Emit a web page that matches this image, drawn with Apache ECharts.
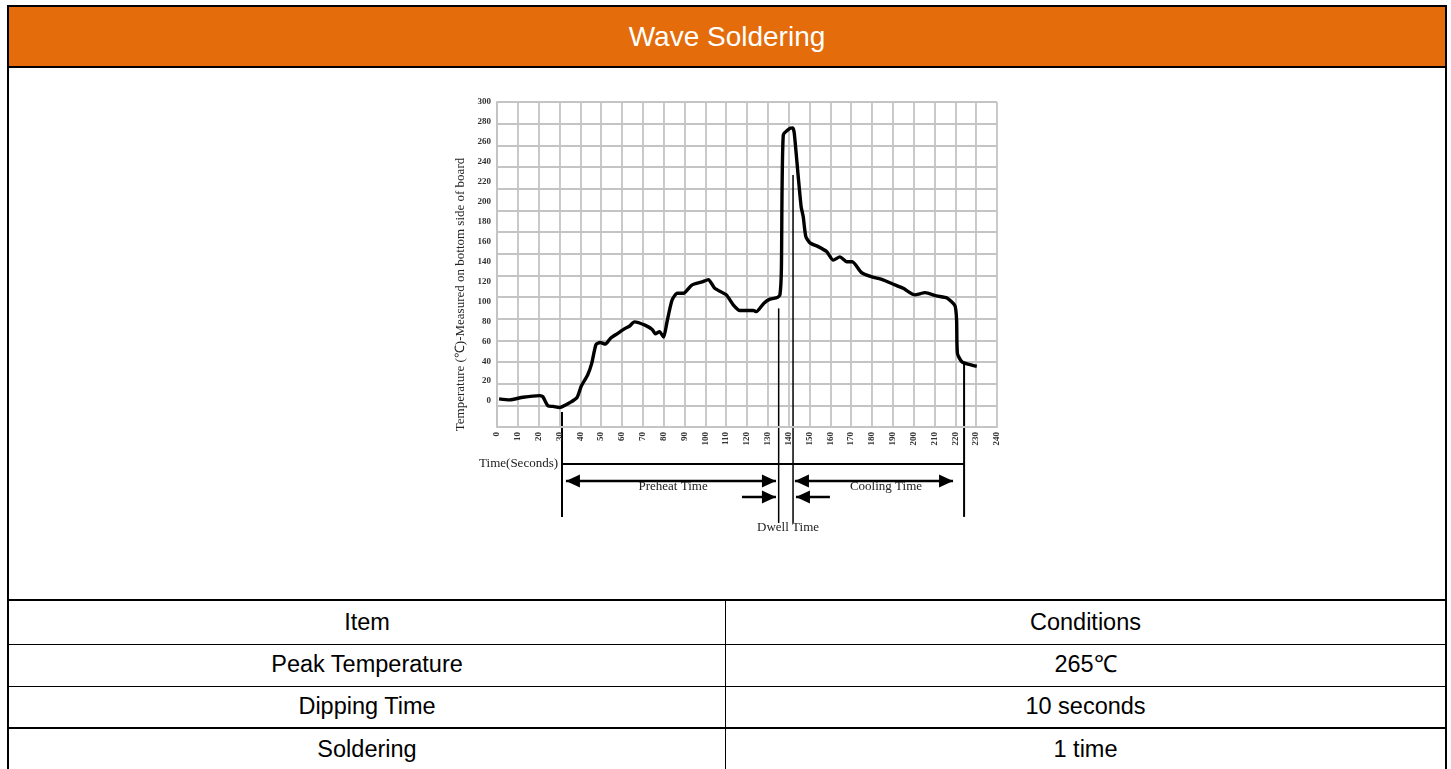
<!DOCTYPE html>
<html>
<head>
<meta charset="utf-8">
<script src="https://cdn.jsdelivr.net/npm/echarts@6/dist/echarts.min.js"></script>
<style>
  html, body { margin: 0; padding: 0; background: #fff; width: 1451px; height: 769px; overflow: hidden; }
  #chart { position: absolute; left: 0; top: 0; width: 1451px; height: 769px; }
  #header { position: absolute; left: 7px; top: 5px; width: 1436px; height: 59px; background: #E46C0A;
            border: 2px solid #000; color: #fff; font-family: "Liberation Sans", Arial, sans-serif;
            font-size: 28px; line-height: 59px; text-align: center; z-index: 2; }
  #frame { position: absolute; left: 7px; top: 66px; width: 1436px; height: 534px;
           border-left: 2px solid #000; border-right: 2px solid #000; pointer-events: none; z-index: 2; }
  #tbl { position: absolute; left: 7px; top: 599px; width: 1440px; border-collapse: collapse; z-index: 2;
         font-family: "Liberation Sans", Arial, sans-serif; font-size: 23.5px; color: #000; background: #fff; }
  #tbl td { border: 1px solid #000; text-align: center; padding: 0; line-height: 1; }
  #tbl tr.thick td { border-top: 2px solid #000; }
  #tbl td.l { border-left: 2px solid #000; width: 716px; }
  #tbl td.r { border-right: 2px solid #000; }
</style>
</head>
<body>
<div id="chart"></div>
<div id="header">Wave Soldering</div>
<div id="frame"></div>
<table id="tbl"></table>
<script>
// ---- Data ----
const timeS = [1, 6, 12.5, 20.5, 22, 24.5, 27, 30, 35, 38.5, 40.5, 43.5, 45.5, 47.5, 49.5, 52, 54.5, 58, 61.5, 63.5,
  66, 71, 74.5, 76, 78, 80, 81.5, 84, 86.5, 89.5, 93.5, 98.5, 101.5, 104.5, 110, 113.5, 116.5, 123, 124.5, 128,
  131, 134.5, 135.8, 136.5, 137.4, 140.6, 142, 142.7, 144.6, 146, 147, 148.2, 150.2, 154.2, 158.2, 161.4, 164.6,
  167.9, 170.5, 175, 180, 184.7, 190, 195, 200.5, 205.5, 211, 216, 219.8, 220.6, 221, 223, 226, 230.3];
const tempC = [26, 25, 27.5, 29, 28, 19.5, 19, 18, 22.5, 27.5, 38, 48, 59, 76, 78, 76.5, 82, 86.5, 91, 93,
  97, 94, 90, 86, 88, 83, 96, 117, 123.5, 123.5, 131, 134, 136, 128, 122, 112.5, 107.5, 107.5, 106.5, 114,
  118, 119.5, 122, 145, 269.5, 275.7, 276, 271, 231, 203, 194, 176, 170, 166.5, 162, 154, 157,
  152.5, 152.5, 142.5, 138.5, 136.3, 132, 128, 122, 124, 121, 119, 112, 99, 68, 60.5, 58, 56];

// y tick labels of the reference are drawn on their own (slightly compressed) scale
const yTickLabels = [0, 20, 40, 60, 80, 100, 120, 140, 160, 180, 200, 220, 240, 260, 280, 300];
const yLabelOffset = 26;   // label "0" sits this many grid units above the grid's bottom line

// annotation positions, in data units (seconds, grid degrees)
const markerTimes   = [31.2, 135.2, 142.1, 224.2];
const markerTops    = [13.8, 109.5, 232.6, 58.8];
const markerBottoms = [-83, -88.6, -88.6, -83];
const timeLineSpan  = [31.2, 224.2];
const timeLineLevel = -34.2;
const preheatSpan   = [33.1, 133.9];
const coolingSpan   = [143.0, 218.9];
const spanLevel     = -49.8;
const dwellRightArrow = [117.6, 133.9];
const dwellLeftArrow  = [159.8, 143.5];
const dwellLevel    = -64.6;
const annoTexts = ['Time(Seconds)', 'Preheat Time', 'Cooling Time', 'Dwell Time'];
const annoTimes = [29.3, 84.5, 186.7, 139.7];
const annoTemps = [-34.2, -55.4, -55.4, -93];

const tableItems = ['Item', 'Peak Temperature', 'Dipping Time', 'Soldering'];
const tableConds = ['Conditions', '265℃', '10 seconds', '1 time'];

// ---- Table ----
const rowHeights = [44, 42, 42, 42];
const tbl = document.getElementById('tbl');
tableItems.forEach((it, i) => {
  const tr = document.createElement('tr');
  if (i === 0 || i === 3) tr.className = 'thick';
  tr.style.height = rowHeights[i] + 'px';
  const a = document.createElement('td'); a.className = 'l'; a.textContent = it;
  const b = document.createElement('td'); b.className = 'r'; b.textContent = tableConds[i];
  tr.appendChild(a); tr.appendChild(b); tbl.appendChild(tr);
});

// ---- Chart ----
const chart = echarts.init(document.getElementById('chart'), null, { renderer: 'canvas' });
const gridColor = '#c4c4c4';
const serif = '"Liberation Serif", "Times New Roman", serif';
const curve = timeS.map((t, i) => [t, tempC[i]]);
const labelMax = Math.round(300 + yLabelOffset);

chart.setOption({
  animation: false,
  backgroundColor: 'transparent',
  grid: { left: 497, right: 454, top: 102, bottom: 342, containLabel: false },
  xAxis: {
    type: 'value', min: 0, max: 240, interval: 10,
    axisLine: { show: true, onZero: false, lineStyle: { color: gridColor, width: 1.8 } },
    axisTick: { show: false },
    splitLine: { show: true, lineStyle: { color: gridColor, width: 1.8 } },
    axisLabel: { rotate: 90, margin: 5, fontFamily: serif, fontSize: 9, fontWeight: 'bold', color: '#333' }
  },
  yAxis: [
    {
      type: 'value', min: 0, max: 300, interval: 20,
      axisLine: { show: true, lineStyle: { color: gridColor, width: 1.8 } },
      axisTick: { show: false },
      splitLine: { show: true, lineStyle: { color: gridColor, width: 1.8 } },
      axisLabel: { show: false },
      name: 'Temperature (℃)-Measured on bottom side of board',
      nameLocation: 'middle', nameGap: 30,
      nameTextStyle: { fontFamily: serif, fontSize: 13, color: '#222', padding: [0, 60, 0, 0] }
    },
    {
      type: 'value', min: 0, max: labelMax, interval: 2, position: 'left',
      axisLine: { show: false }, axisTick: { show: false }, splitLine: { show: false },
      axisLabel: {
        margin: 6, fontFamily: serif, fontSize: 9, fontWeight: 'bold', color: '#333',
        formatter: function (v) {
          const lab = Math.round(v - yLabelOffset);
          return yTickLabels.indexOf(lab) >= 0 ? String(lab) : '';
        }
      }
    }
  ],
  series: [{
    type: 'line', data: curve, yAxisIndex: 0, xAxisIndex: 0,
    symbol: 'none', smooth: 0.2, silent: true,
    lineStyle: { color: '#000', width: 3.4 }
  }]
});

// ---- Annotations below the plot, positioned through the chart's scales ----
function px(t, v) { return chart.convertToPixel({ xAxisIndex: 0, yAxisIndex: 0 }, [t, v]); }
const g = [];
function seg(a, b, w) {
  g.push({ type: 'line', silent: true, shape: { x1: a[0], y1: a[1], x2: b[0], y2: b[1] },
           style: { stroke: '#000', lineWidth: w } });
}
function head(tip, dir) {  // dir = -1 points left, +1 points right
  const L = 14, H = 6.5;
  g.push({ type: 'polygon', silent: true,
           shape: { points: [[tip[0], tip[1]], [tip[0] - dir * L, tip[1] - H], [tip[0] - dir * L, tip[1] + H]] },
           style: { fill: '#000' } });
}
markerTimes.forEach((t, i) => {
  seg(px(t, markerTops[i]), px(t, markerBottoms[i]), (i === 1 || i === 2) ? 1.5 : 2);
});
seg(px(timeLineSpan[0], timeLineLevel), px(timeLineSpan[1], timeLineLevel), 2);
[preheatSpan, coolingSpan].forEach(sp => {
  const a = px(sp[0], spanLevel), b = px(sp[1], spanLevel);
  seg(a, b, 2.5); head(a, -1); head(b, 1);
});
{
  const a = px(dwellRightArrow[0], dwellLevel), b = px(dwellRightArrow[1], dwellLevel);
  seg(a, b, 2.5); head(b, 1);
  const c = px(dwellLeftArrow[0], dwellLevel), d = px(dwellLeftArrow[1], dwellLevel);
  seg(c, d, 2.5); head(d, -1);
}
annoTexts.forEach((txt, i) => {
  const p = px(annoTimes[i], annoTemps[i]);
  g.push({ type: 'text', silent: true, x: p[0], y: p[1],
           style: { text: txt, fontFamily: serif, fontSize: 13, fill: '#222',
                    align: i === 0 ? 'right' : 'center', verticalAlign: 'middle' } });
});
chart.setOption({ graphic: g });
</script>
</body>
</html>
